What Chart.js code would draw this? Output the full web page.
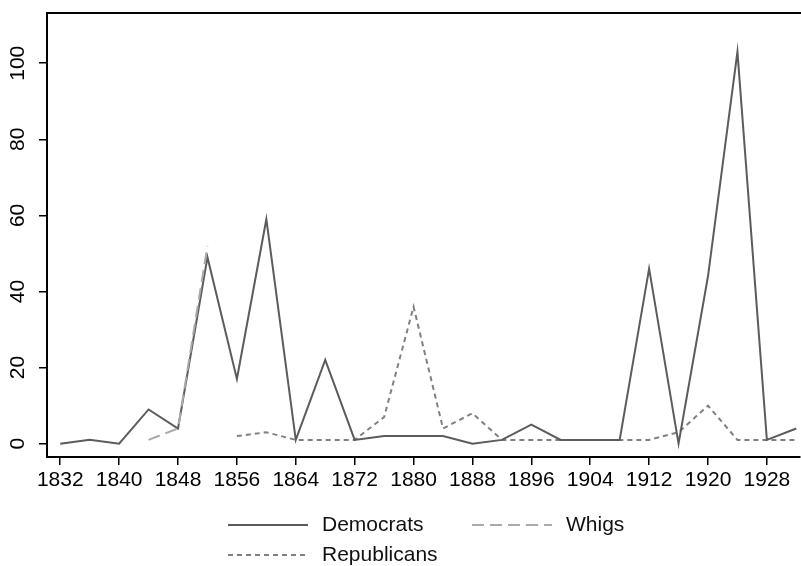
<!DOCTYPE html>
<html>
<head>
<meta charset="utf-8">
<script src="https://cdn.jsdelivr.net/npm/chart.js@4"></script>
<style>
  body { margin: 0; background: #fff; }
</style>
</head>
<body>
<canvas id="chart" width="801" height="566"></canvas>
<script>
const years = [1832, 1836, 1840, 1844, 1848, 1852, 1856, 1860, 1864, 1868, 1872, 1876, 1880,
               1884, 1888, 1892, 1896, 1900, 1904, 1908, 1912, 1916, 1920, 1924, 1928, 1932];

const democrats = [0, 1, 0, 9, 4, 49, 17, 59, 1, 22, 1, 2, 2,
                   2, 0, 1, 5, 1, 1, 1, 46, 0, 44, 103, 1, 4];

const whigs = [null, null, null, 1, 4, 52, null, null, null, null, null, null, null,
               null, null, null, null, null, null, null, null, null, null, null, null, null];

const republicans = [null, null, null, null, null, null, 2, 3, 1, 1, 1, 7, 36,
                     4, 8, 1, 1, 1, 1, 1, 1, 3, 10, 1, 1, 1];

const xTicks = [1832, 1840, 1848, 1856, 1864, 1872, 1880, 1888, 1896, 1904, 1912, 1920, 1928];
const yTicks = [0, 20, 40, 60, 80, 100];

const font = { family: "'Liberation Sans', Arial, sans-serif", size: 21 };

function points(values) {
    return years.map((yr, i) => ({ x: yr, y: values[i] }));
}

// legend laid out in two columns like the original, built from the datasets
const legendGrid = {
    id: "legendGrid",
    afterDraw(chart) {
        const ctx = chart.ctx;
        const slots = [
            { x: 228, y: 525 },
            { x: 472, y: 525 },
            { x: 228, y: 555 }
        ];
        chart.data.datasets.forEach((ds, i) => {
            const s = slots[i];
            ctx.save();
            ctx.strokeStyle = ds.borderColor;
            ctx.lineWidth = ds.borderWidth;
            ctx.setLineDash(ds.borderDash || []);
            ctx.beginPath();
            ctx.moveTo(s.x, s.y);
            ctx.lineTo(s.x + 80, s.y);
            ctx.stroke();
            ctx.setLineDash([]);
            ctx.fillStyle = "#111";
            ctx.font = `${font.size}px ${font.family}`;
            ctx.textBaseline = "middle";
            ctx.fillText(ds.label, s.x + 94, s.y);
            ctx.restore();
        });
    }
};

const axisGrid = {
    drawOnChartArea: false,
    drawTicks: true,
    tickLength: 8,
    color: "#000",
    lineWidth: 1.5
};

new Chart(document.getElementById("chart"), {
    type: "line",
    data: {
        datasets: [
            {
                label: "Democrats",
                data: points(democrats),
                borderColor: "#5c5c5c",
                borderWidth: 2,
                order: 1
            },
            {
                label: "Whigs",
                data: points(whigs),
                borderColor: "#aaaaaa",
                borderWidth: 2,
                borderDash: [12, 6],
                order: 0
            },
            {
                label: "Republicans",
                data: points(republicans),
                borderColor: "#808080",
                borderWidth: 2,
                borderDash: [5, 4],
                order: 2
            }
        ]
    },
    options: {
        responsive: false,
        animation: false,
        layout: { padding: { top: 5, right: 1, left: 0, bottom: 0 } },
        elements: {
            point: { radius: 0 },
            line: { tension: 0 }
        },
        scales: {
            x: {
                type: "linear",
                min: 1830.2,
                max: 1932.5,
                afterBuildTicks: axis => { axis.ticks = xTicks.map(v => ({ value: v })); },
                afterFit: axis => { axis.height = 109; axis.paddingLeft = 0; axis.paddingRight = 0; },
                ticks: {
                    font: font,
                    color: "#000",
                    padding: 3,
                    maxRotation: 0,
                    callback: v => String(v)
                },
                grid: axisGrid,
                border: { display: true, color: "#000", width: 2 }
            },
            xTop: {
                type: "linear",
                position: "top",
                min: 1830.2,
                max: 1932.5,
                ticks: { display: false },
                grid: { display: false },
                border: { display: true, color: "#000", width: 2 }
            },
            y: {
                min: -3.5,
                max: 113.2,
                afterBuildTicks: axis => { axis.ticks = yTicks.map(v => ({ value: v })); },
                afterFit: axis => { axis.width = 47; axis.paddingTop = 0; axis.paddingBottom = 0; },
                ticks: {
                    font: font,
                    color: "#000",
                    padding: 3,
                    minRotation: 90,
                    maxRotation: 90,
                    crossAlign: "center",
                    callback: v => String(v)
                },
                grid: axisGrid,
                border: { display: true, color: "#000", width: 2 }
            }
        },
        plugins: {
            legend: { display: false },
            tooltip: { enabled: false }
        }
    },
    plugins: [legendGrid]
});
</script>
</body>
</html>
